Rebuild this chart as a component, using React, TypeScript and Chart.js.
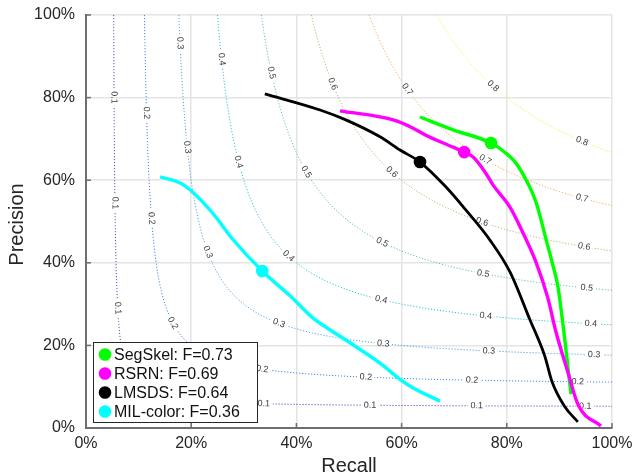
import React, { useEffect, useRef } from "react";
import { Chart, registerables } from "chart.js";

Chart.register(...registerables);

// ---------- data (percent) ----------
const methodNames = ["SegSkel", "RSRN", "LMSDS", "MIL-color"];
const methodF = [0.73, 0.69, 0.64, 0.36];
const methodColors = ["#00ff00", "#ff00ff", "#000000", "#00ffff"];
const methodWidths = [3.4, 3.4, 2.8, 3.4];

const segSkelRecall = [63.5, 69.8, 77.0, 79.8, 81.7, 83.7, 85.6, 87.5, 88.8, 89.7, 91.1, 92.2];
const segSkelPrecision = [75.3, 72.2, 69.0, 66.6, 64.2, 60.0, 54.5, 45.5, 39.2, 34.4, 20.6, 8.2];

const rsrnRecall = [48.3, 58.4, 62.2, 64.6, 69.8, 71.9, 73.6, 76.0, 77.4, 80.6, 83.1, 85.6, 87.8, 89.3, 91.5, 93.6, 97.9];
const rsrnPrecision = [76.8, 74.6, 72.6, 70.9, 68.0, 66.8, 65.6, 61.7, 58.8, 53.5, 47.2, 40.0, 31.5, 23.5, 14.0, 5.5, 0.5];

const lmsdsRecall = [34.0, 44.5, 49.4, 55.9, 59.7, 63.5, 68.4, 72.2, 76.8, 80.6, 84.4, 87.2, 88.6, 91.0, 93.5];
const lmsdsPrecision = [80.9, 77.0, 74.6, 70.5, 67.3, 64.4, 58.4, 52.8, 45.5, 37.8, 26.2, 17.5, 11.2, 5.2, 1.5];

const milRecall = [14.1, 17.9, 20.3, 24.1, 27.9, 33.5, 38.8, 43.2, 49.4, 55.9, 59.9, 62.2, 67.3];
const milPrecision = [60.8, 59.3, 57.1, 52.0, 45.7, 38.0, 32.0, 26.6, 21.3, 15.7, 11.6, 9.7, 6.5];

const bestRecall = [77.0, 71.9, 63.5, 33.5];
const bestPrecision = [69.0, 66.8, 64.4, 38.0];

const axisTicks = [0, 20, 40, 60, 80, 100];

// iso-F contour levels, colours and approximate label spots [recall, precision]
const isoLevels = [0.1, 0.2, 0.3, 0.4, 0.5, 0.6, 0.7, 0.8];
const isoColors = ["#5b4fc0", "#3f86e3", "#4aa6e6", "#2cc0d2", "#5cc39a", "#b9b36a", "#f2ad45", "#f7ec2a"];
const isoLabelSpots: number[][][] = [
  [[5.3, 80], [5.3, 54.5], [5.9, 29], [33.8, 5.6], [54, 5.6], [74.3, 5.3], [94.9, 5.6]],
  [[11.4, 76.3], [12.4, 50.8], [16.2, 25.4], [33.5, 14], [53.2, 12], [73.4, 11.6], [93.5, 11]],
  [[17.7, 93.2], [19.2, 68], [23, 42.6], [36.7, 25.2], [56.5, 20], [76.6, 18.4], [96.6, 17.2]],
  [[25.7, 89.3], [28.9, 64.4], [38, 41.6], [56.1, 30], [76, 27], [96, 25]],
  [[35.2, 86], [41.4, 62], [56.3, 45], [75.5, 37], [95.2, 34]],
  [[46.8, 83.3], [57.8, 62], [75.3, 50], [94.7, 44]],
  [[60.8, 82], [75.9, 65.1], [94.3, 55]],
  [[77.4, 82.8], [94.3, 69]],
];

const seriesRecall = [segSkelRecall, rsrnRecall, lmsdsRecall, milRecall];
const seriesPrecision = [segSkelPrecision, rsrnPrecision, lmsdsPrecision, milPrecision];

const FONT = '"Liberation Sans", Arial, Helvetica, sans-serif';
const TEXT = "#262626";
const AXIS = "#6e6e6e";

// iso-F line: F = 2PR/(P+R)
function isoCurve(F: number) {
  const pts: { x: number; y: number }[] = [];
  const n = 120;
  for (let i = 0; i <= n; i++) {
    const p = 1 - ((1 - F) * i) / n;
    const r = (F * p) / (2 * p - F);
    pts.push({ x: r * 100, y: p * 100 });
  }
  for (let i = 1; i <= n; i++) {
    const r = F + ((1 - F) * i) / n;
    const p = (F * r) / (2 * r - F);
    pts.push({ x: r * 100, y: p * 100 });
  }
  return pts;
}

function labelGeoms(chart: any, li: number) {
  const F = isoLevels[li];
  const xs = chart.scales.x;
  const ys = chart.scales.y;
  const f = (v: number) => (F * v) / (2 * v - F);
  const px = (q: number[]) => [xs.getPixelForValue(q[0] * 100), ys.getPixelForValue(q[1] * 100)];
  const ctx = chart.ctx;
  ctx.save();
  ctx.font = `9px ${FONT}`;
  const text = F.toFixed(1);
  const w = ctx.measureText(text).width;
  ctx.restore();
  return isoLabelSpots[li].map(([r, p]) => {
    let a: number[], b: number[], c: number[];
    const d = 0.004;
    if (r < p) {
      const pf = p / 100;
      c = [f(pf), pf];
      a = [f(pf + d), pf + d];
      b = [f(pf - d), pf - d];
    } else {
      const rf = r / 100;
      c = [rf, f(rf)];
      a = [rf - d, f(rf - d)];
      b = [rf + d, f(rf + d)];
    }
    const C = px(c), A = px(a), B = px(b);
    let ang = Math.atan2(B[1] - A[1], B[0] - A[0]);
    if (ang > Math.PI / 2) ang -= Math.PI;
    if (ang <= -Math.PI / 2) ang += Math.PI;
    return { x: C[0], y: C[1], ang, w, text };
  });
}

const isoPlugin = {
  id: "isoLabels",
  beforeDatasetDraw(chart: any, args: any) {
    const ds: any = chart.data.datasets[args.index];
    if (ds.isoIdx == null) return;
    const ctx = chart.ctx;
    const labels = labelGeoms(chart, ds.isoIdx);
    ctx.save();
    ctx.beginPath();
    ctx.rect(0, 0, chart.width, chart.height);
    for (const L of labels) {
      const hw = L.w / 2 + 2.5;
      const hh = 4;
      const cs = Math.cos(L.ang), sn = Math.sin(L.ang);
      const corners = [
        [-hw, -hh], [hw, -hh], [hw, hh], [-hw, hh],
      ].map(([u, v]) => [L.x + u * cs - v * sn, L.y + u * sn + v * cs]);
      ctx.moveTo(corners[0][0], corners[0][1]);
      for (let k = 1; k < 4; k++) ctx.lineTo(corners[k][0], corners[k][1]);
      ctx.closePath();
    }
    ctx.clip("evenodd");
  },
  afterDatasetDraw(chart: any, args: any) {
    const ds: any = chart.data.datasets[args.index];
    if (ds.isoIdx == null) return;
    const ctx = chart.ctx;
    ctx.restore();
    const labels = labelGeoms(chart, ds.isoIdx);
    ctx.save();
    ctx.font = `9px ${FONT}`;
    ctx.fillStyle = "#3a3a3a";
    ctx.textAlign = "center";
    ctx.textBaseline = "middle";
    for (const L of labels) {
      ctx.save();
      ctx.translate(L.x, L.y);
      ctx.rotate(L.ang);
      ctx.fillText(L.text, 0, 0);
      ctx.restore();
    }
    ctx.restore();
  },
  afterDraw(chart: any) {
    const ctx = chart.ctx;
    const area = chart.chartArea;
    const xs = chart.scales.x;
    const ys = chart.scales.y;
    ctx.save();
    // inward tick marks
    ctx.strokeStyle = AXIS;
    ctx.lineWidth = 1.5;
    for (const t of axisTicks) {
      const yy = ys.getPixelForValue(t);
      ctx.beginPath();
      ctx.moveTo(area.left, yy);
      ctx.lineTo(area.left + 5, yy);
      ctx.stroke();
      const xx = xs.getPixelForValue(t);
      ctx.beginPath();
      ctx.moveTo(xx, area.bottom);
      ctx.lineTo(xx, area.bottom - 5);
      ctx.stroke();
    }
    // axis titles
    ctx.fillStyle = TEXT;
    ctx.font = `20px ${FONT}`;
    ctx.textAlign = "center";
    ctx.textBaseline = "alphabetic";
    ctx.fillText("Recall", (area.left + area.right) / 2, 472);
    ctx.save();
    ctx.translate(23, (area.top + area.bottom) / 2 + 3);
    ctx.rotate(-Math.PI / 2);
    ctx.fillText("Precision", 0, 0);
    ctx.restore();
    // legend box
    const bx = area.left + 7;
    const bw = 164;
    const bh = 80;
    const by = area.bottom - 6 - bh;
    ctx.fillStyle = "#ffffff";
    ctx.fillRect(bx, by, bw, bh);
    ctx.strokeStyle = "#262626";
    ctx.lineWidth = 1;
    ctx.strokeRect(bx + 0.5, by + 0.5, bw, bh);
    ctx.font = `16px ${FONT}`;
    ctx.textAlign = "left";
    ctx.textBaseline = "middle";
    methodNames.forEach((name, i) => {
      const cy = by + 12.5 + i * 19;
      ctx.beginPath();
      ctx.fillStyle = methodColors[i];
      ctx.arc(bx + 12, cy, 6.3, 0, Math.PI * 2);
      ctx.fill();
      ctx.fillStyle = "#111111";
      ctx.fillText(`${name}: F=${methodF[i].toFixed(2)}`, bx + 21, cy + 1);
    });
    ctx.restore();
  },
};

const zeroPad = (s: any) => {
  s.paddingLeft = 0;
  s.paddingRight = 0;
  s.paddingTop = 0;
  s.paddingBottom = 0;
};

export default function App() {
  const ref = useRef<HTMLCanvasElement | null>(null);
  useEffect(() => {
    if (!ref.current) return;
    const datasets: any[] = [];
    isoLevels.forEach((F, i) => {
      datasets.push({
        type: "line",
        label: `F=${F.toFixed(1)}`,
        isoIdx: i,
        data: isoCurve(F),
        borderColor: isoColors[i],
        borderWidth: 1,
        borderDash: [1.2, 1.8],
        pointRadius: 0,
        tension: 0,
        order: 10,
      });
    });
    methodNames.forEach((name, i) => {
      datasets.push({
        type: "line",
        label: name,
        data: seriesRecall[i].map((r, k) => ({ x: r, y: seriesPrecision[i][k] })),
        borderColor: methodColors[i],
        borderWidth: methodWidths[i],
        pointRadius: 0,
        cubicInterpolationMode: "monotone",
        borderCapStyle: "butt",
        order: 2 + (3 - i) * 0.1,
      });
      datasets.push({
        type: "scatter",
        label: `${name} best`,
        data: [{ x: bestRecall[i], y: bestPrecision[i] }],
        backgroundColor: methodColors[i],
        borderColor: methodColors[i],
        pointRadius: 6.3,
        pointBorderWidth: 0,
        order: 1,
      });
    });
    const chart = new Chart(ref.current, {
      type: "line",
      data: { datasets },
      options: {
        animation: false,
        responsive: true,
        maintainAspectRatio: false,
        layout: { padding: { top: 15, right: 21, left: 0, bottom: 0 } },
        plugins: { legend: { display: false }, tooltip: { enabled: false } },
        scales: {
          x: {
            type: "linear",
            min: 0,
            max: 100,
            afterFit: (s: any) => { s.height = 45; zeroPad(s); },
            afterBuildTicks: (s: any) => { s.ticks = axisTicks.map((v) => ({ value: v })); },
            ticks: {
              callback: (v: any) => `${v}%`,
              font: { family: FONT, size: 16 },
              color: TEXT,
              padding: 6,
              maxRotation: 0,
            },
            grid: { color: "#e4e4e4", lineWidth: 1.5, drawTicks: false },
            border: { display: true, color: AXIS, width: 2 },
          },
          y: {
            type: "linear",
            min: 0,
            max: 100,
            afterFit: (s: any) => { s.width = 86; zeroPad(s); },
            afterBuildTicks: (s: any) => { s.ticks = axisTicks.map((v) => ({ value: v })); },
            ticks: {
              callback: (v: any) => `${v}%`,
              font: { family: FONT, size: 16 },
              color: TEXT,
              padding: 11,
            },
            grid: { color: "#e4e4e4", lineWidth: 1.5, drawTicks: false },
            border: { display: true, color: AXIS, width: 2 },
          },
        },
      },
      plugins: [isoPlugin],
    } as any);
    return () => chart.destroy();
  }, []);
  return (
    <div style={{ position: "absolute", left: 0, top: 0, width: 633, height: 473 }}>
      <canvas ref={ref} />
    </div>
  );
}
